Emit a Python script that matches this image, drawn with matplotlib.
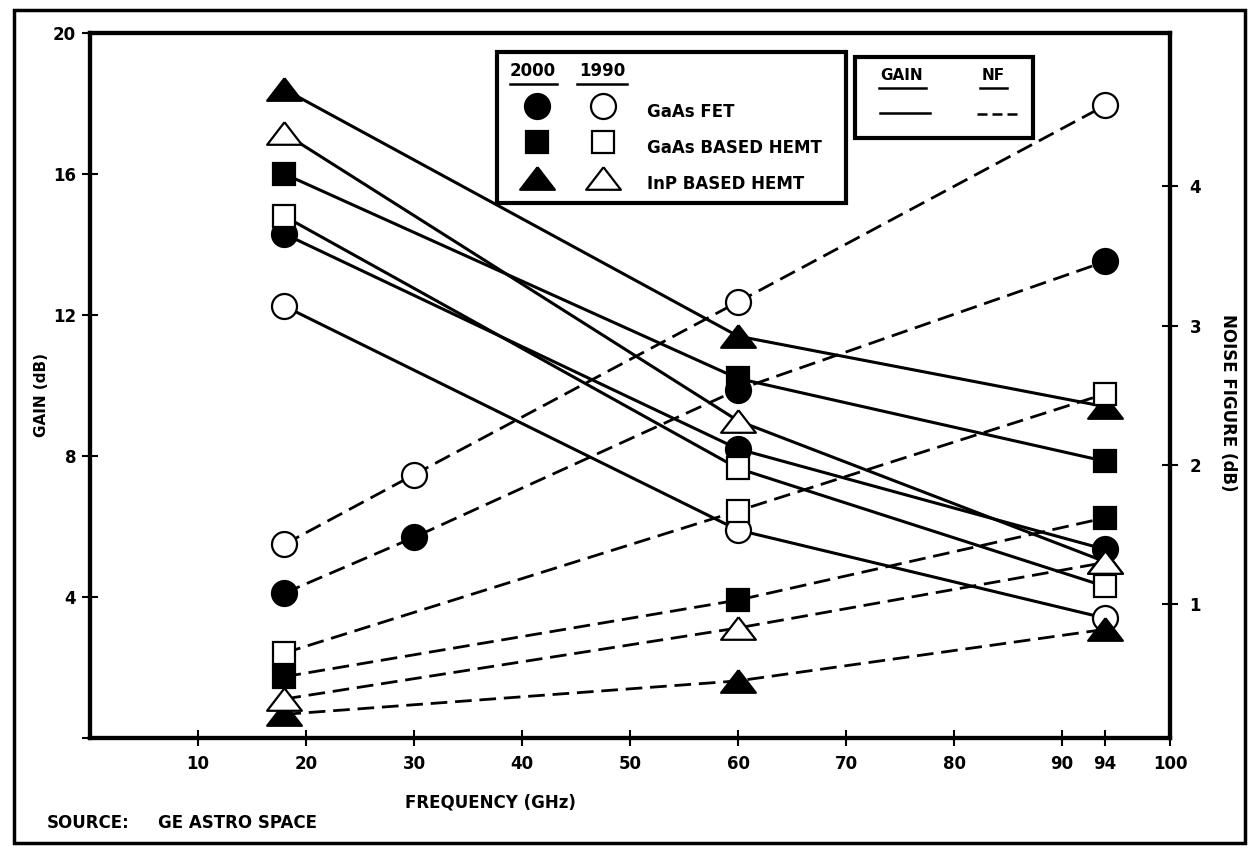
import matplotlib
matplotlib.use("Agg")
import matplotlib.pyplot as plt
from matplotlib.lines import Line2D
from matplotlib.patches import Rectangle

plt.rcParams.update({
    "font.family": ["DejaVu Sans"],
    "font.weight": "bold",
    "font.size": 12,
    "axes.linewidth": 3,
})

# axes
freq_ticks = [10, 20, 30, 40, 50, 60, 70, 80, 90, 94, 100]
gain_ticks = [0, 4, 8, 12, 16, 20]
gain_tick_labels = ["", "4", "8", "12", "16", "20"]
nf_ticks = [1, 2, 3, 4]

# gain (dB), solid lines
gain_freq = [18, 60, 94]
gain_fet_2000 = [14.3, 8.2, 5.35]
gain_fet_1990 = [12.25, 5.9, 3.4]
gain_hemt_2000 = [16.0, 10.2, 7.85]
gain_hemt_1990 = [14.8, 7.65, 4.3]
gain_inp_2000 = [18.4, 11.4, 9.4]
gain_inp_1990 = [17.15, 9.0, 5.0]

# noise figure (dB), dashed lines
nf_freq_fet = [18, 30, 60, 94]
nf_fet_2000 = [1.08, 1.48, 2.54, 3.46]
nf_fet_1990 = [1.43, 1.93, 3.17, 4.58]
nf_freq = [18, 60, 94]
nf_hemt_2000 = [0.48, 1.03, 1.62]
nf_hemt_1990 = [0.65, 1.67, 2.51]
nf_inp_2000 = [0.21, 0.45, 0.82]
nf_inp_1990 = [0.32, 0.83, 1.30]

devices = ["GaAs FET", "GaAs BASED HEMT", "InP BASED HEMT"]
years = ["2000", "1990"]

W, H = 1255, 849


def fx(px):
    return px / W


def fy(py):
    return 1 - py / H


TRI = [(0, 0.65), (-1, -0.65), (1, -0.65), (0, 0.65)]
shapes = {"fet": ("o", 18), "hemt": ("s", 16.5), "inp": (TRI, 25)}


def mstyle(kind, filled):
    m, ms = shapes[kind]
    return dict(marker=m, ms=ms, mfc="k" if filled else "w", mec="k", mew=1.6)


fig = plt.figure(figsize=(12.55, 8.49), dpi=100)
ax = fig.add_axes([fx(90), fy(738), fx(1170) - fx(90), fy(33) - fy(738)])
ax2 = ax.twinx()

ax.set_xlim(0, 100)
ax.set_ylim(0, 20)
ax2.set_ylim(0.04, 5.1)

ax.set_xticks(freq_ticks)
ax.set_yticks(gain_ticks)
ax.set_yticklabels(gain_tick_labels)
ax2.set_yticks(nf_ticks)
ax.tick_params(axis="x", direction="inout", length=12, width=1.5, pad=6, labelsize=12)
ax.tick_params(axis="y", direction="inout", length=12, width=1.5, pad=4, labelsize=12)
ax2.tick_params(axis="y", direction="inout", length=12, width=1.5, pad=8, labelsize=12)
for a in (ax, ax2):
    for s in a.spines.values():
        s.set_linewidth(3)

gain_series = [
    ("fet", True, gain_fet_2000), ("fet", False, gain_fet_1990),
    ("hemt", True, gain_hemt_2000), ("hemt", False, gain_hemt_1990),
    ("inp", True, gain_inp_2000), ("inp", False, gain_inp_1990),
]
for kind, filled, vals in gain_series:
    ax.plot(gain_freq, vals, "-", color="k", lw=2.2, **mstyle(kind, filled))

nf_series = [
    ("fet", True, nf_freq_fet, nf_fet_2000), ("fet", False, nf_freq_fet, nf_fet_1990),
    ("hemt", True, nf_freq, nf_hemt_2000), ("hemt", False, nf_freq, nf_hemt_1990),
    ("inp", True, nf_freq, nf_inp_2000), ("inp", False, nf_freq, nf_inp_1990),
]
for kind, filled, f, vals in nf_series:
    ax2.plot(f, vals, color="k", lw=2, dashes=(6, 2.8), **mstyle(kind, filled))

# axis titles and source note
fig.text(fx(41), fy(395), "GAIN (dB)", rotation=90, ha="center", va="center", fontsize=11)
fig.text(fx(1228), fy(403), "NOISE FIGURE (dB)", rotation=270, ha="center", va="center", fontsize=12)
fig.text(fx(490), fy(803), "FREQUENCY (GHz)", ha="center", va="center", fontsize=12)
fig.text(fx(47), fy(823), "SOURCE:", ha="left", va="center", fontsize=12)
fig.text(fx(158), fy(823), "GE ASTRO SPACE", ha="left", va="center", fontsize=12)

# outer frame
fig.add_artist(Rectangle((fx(14), fy(843)), fx(1245) - fx(14), fy(10) - fy(843),
                         transform=fig.transFigure, fill=False, lw=2.5, ec="k"))

# symbol key
fig.add_artist(Rectangle((fx(497), fy(203)), fx(846) - fx(497), fy(52) - fy(203),
                         transform=fig.transFigure, fc="w", lw=3, ec="k", zorder=5))
for yr, cx, x0, x1 in zip(years, [533, 602], [510, 577], [557, 627]):
    fig.text(fx(cx), fy(71), yr, ha="center", va="center", fontsize=12, zorder=6)
    fig.add_artist(Line2D([fx(x0), fx(x1)], [fy(84), fy(84)], color="k", lw=1.8, zorder=6))
for kind, name, ry in zip(["fet", "hemt", "inp"], devices, [106, 142, 178]):
    fig.add_artist(Line2D([fx(537)], [fy(ry)], ls="none", zorder=6, **mstyle(kind, True)))
    fig.add_artist(Line2D([fx(603)], [fy(ry)], ls="none", zorder=6, **mstyle(kind, False)))
    fig.text(fx(647), fy(ry + 6), name, ha="left", va="center", fontsize=12, zorder=6)

# line style key
fig.add_artist(Rectangle((fx(855), fy(138)), fx(1033) - fx(855), fy(57) - fy(138),
                         transform=fig.transFigure, fc="w", lw=3, ec="k", zorder=5))
fig.text(fx(902), fy(75), "GAIN", ha="center", va="center", fontsize=11, zorder=6)
fig.add_artist(Line2D([fx(879), fx(926)], [fy(88), fy(88)], color="k", lw=1.8, zorder=6))
fig.text(fx(993), fy(75), "NF", ha="center", va="center", fontsize=11, zorder=6)
fig.add_artist(Line2D([fx(980), fx(1007)], [fy(88), fy(88)], color="k", lw=1.8, zorder=6))
fig.add_artist(Line2D([fx(880), fx(930)], [fy(113), fy(113)], color="k", lw=1.8, zorder=6))
fig.add_artist(Line2D([fx(977), fx(1017)], [fy(114), fy(114)], color="k", lw=1.8,
                      dashes=(4, 2), zorder=6))

fig.savefig("out.png", dpi=100)
